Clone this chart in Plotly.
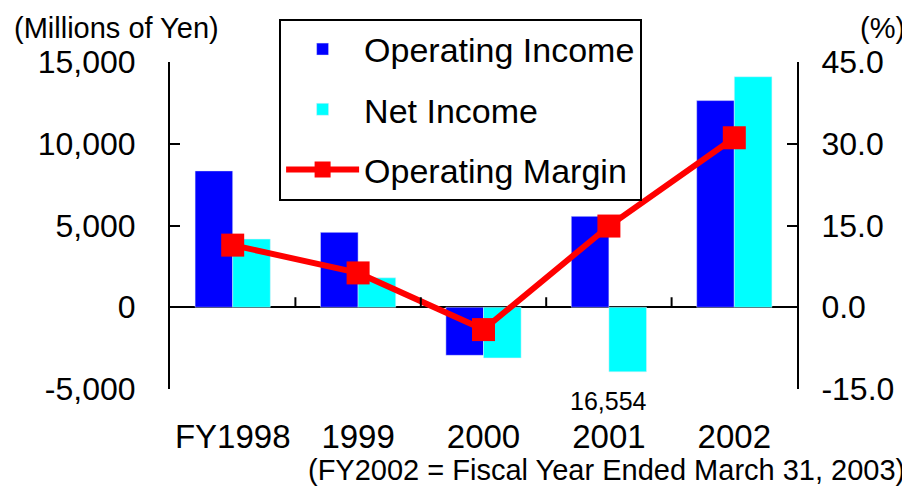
import plotly.graph_objects as go

# ---------------------------------------------------------------
# Data
# ---------------------------------------------------------------
years = ["FY1998", "1999", "2000", "2001", "2002"]
operating_income = [8340, 4580, -2940, 5560, 12640]      # millions of yen
net_income = [4170, 1800, -3100, -3950, 14100]           # 2001 bar is cut short
net_income_2001_label = "16,554"                          # real value printed under the cut bar
operating_margin = [11.4, 6.3, -4.1, 14.9, 31.1]         # %

left_ticks = [-5000, 0, 5000, 10000, 15000]
left_labels = ["-5,000", "0", "5,000", "10,000", "15,000"]
right_ticks = [-15, 0, 15, 30, 45]
right_labels = ["-15.0", "0.0", "15.0", "30.0", "45.0"]

FONT = "Liberation Sans, Arial, sans-serif"

fig = go.Figure()

fig.add_trace(go.Bar(x=years, y=operating_income, name="Operating Income",
                     marker_color="#0000FF", legendgroup="a"))
fig.add_trace(go.Bar(x=years, y=net_income, name="Net Income",
                     marker_color="#00FFFF", legendgroup="b"))
fig.add_trace(go.Scatter(x=years, y=operating_margin, name="Operating Margin",
                         mode="lines+markers", yaxis="y2",
                         line=dict(color="#FF0000", width=6),
                         marker=dict(symbol="square", size=23, color="#FF0000"),
                         legendgroup="c"))

# the page adds an 8px body margin, so the figure is 8px smaller
fig.update_layout(
    width=902, height=480,
    margin=dict(l=162, r=113, t=54, b=99, autoexpand=False),
    paper_bgcolor="white", plot_bgcolor="white",
    font=dict(family=FONT, color="black", size=32),
    barmode="group", bargap=0.4, bargroupgap=0,
    showlegend=True,
    legend=dict(x=0.174, y=1.133, xanchor="left", yanchor="top",
                bordercolor="black", borderwidth=2, bgcolor="white",
                font=dict(size=34), itemwidth=73, tracegroupgap=13),
    xaxis=dict(type="category", showline=False, ticks="", showgrid=False,
               zeroline=False, tickfont=dict(size=33), ticklabelstandoff=25),
    yaxis=dict(range=[-5000, 15000], tickvals=left_ticks, ticktext=left_labels,
               showline=True, linecolor="black", linewidth=2, ticks="inside",
               ticklen=10, tickwidth=2, tickcolor="black", showgrid=False,
               zeroline=True, zerolinecolor="black", zerolinewidth=2,
               ticklabelstandoff=26),
    yaxis2=dict(range=[-15, 45], tickvals=right_ticks, ticktext=right_labels,
                overlaying="y", side="right", anchor="x",
                showline=True, linecolor="black", linewidth=2, ticks="inside",
                ticklen=10, tickwidth=2, tickcolor="black", showgrid=False,
                zeroline=False, ticklabelstandoff=16),
)

# small upward ticks on the zero line between the year groups (~10px tall)
tick_h = 10 * (15000 - -5000) / 327
for i in range(len(years) - 1):
    fig.add_shape(type="line", xref="x", yref="y", x0=i + 0.5, x1=i + 0.5,
                  y0=0, y1=tick_h, layer="above",
                  line=dict(color="black", width=2))

# unit labels and notes
fig.add_annotation(text="(Millions of Yen)", xref="paper", yref="paper",
                   x=-0.252, y=1.104, xanchor="left", yanchor="middle",
                   showarrow=False, font=dict(size=29))
fig.add_annotation(text="(%)", xref="paper", yref="paper",
                   x=1.136, y=1.104, xanchor="center", yanchor="middle",
                   showarrow=False, font=dict(size=29))
# category index of 2001 (a plain "2001" string would be read as a number)
fig.add_annotation(text=net_income_2001_label, xref="x", yref="y",
                   x=years.index("2001"), y=-5000, xanchor="center",
                   yanchor="middle", yshift=-12, showarrow=False,
                   font=dict(size=25))
fig.add_annotation(text="(FY2002 = Fiscal Year Ended March 31, 2003)",
                   xref="paper", yref="paper", x=1.1754, y=-0.248,
                   xanchor="right", yanchor="middle", showarrow=False,
                   font=dict(size=29))

fig.write_html("out.html")
